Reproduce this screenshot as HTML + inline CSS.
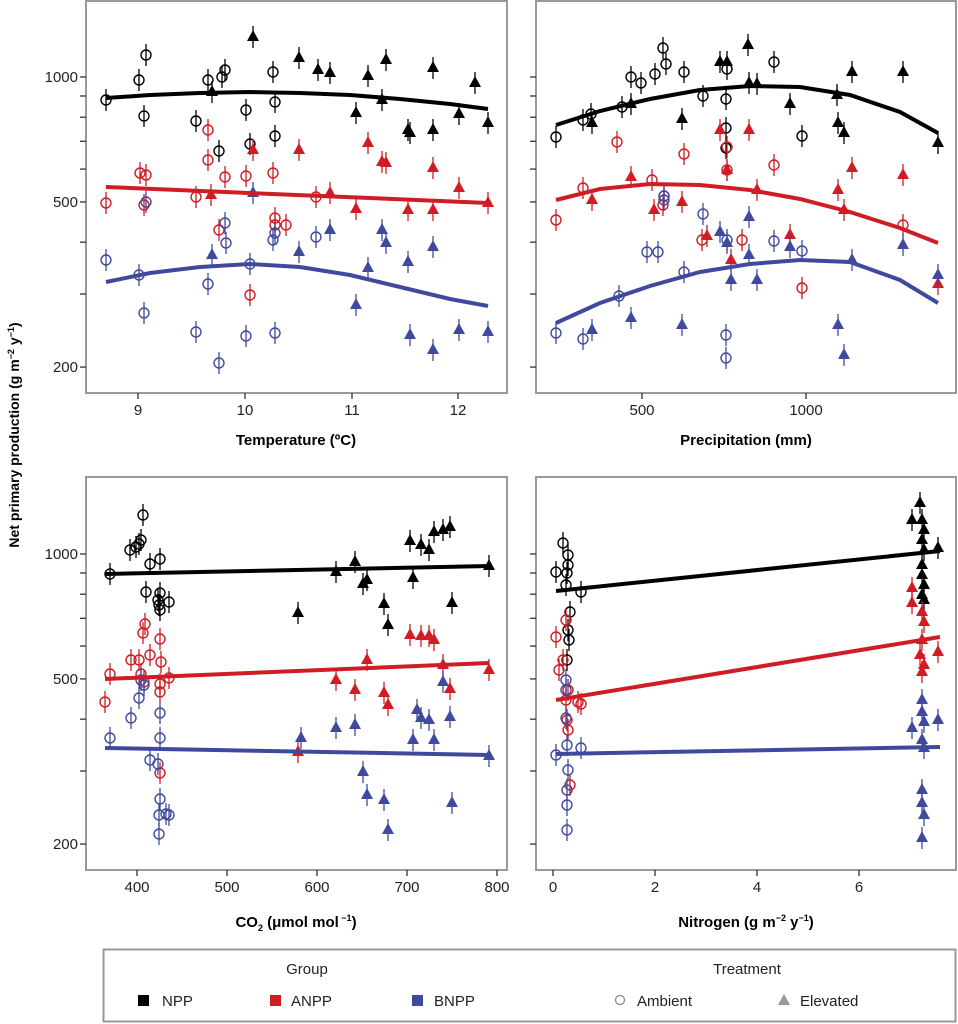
<!DOCTYPE html>
<html><head><meta charset="utf-8"><style>
html,body{margin:0;padding:0;background:#fff;}
svg{display:block;font-family:"Liberation Sans",Arial,sans-serif;}
</style></head><body>
<svg id="s" width="958" height="1024" viewBox="0 0 958 1024" xmlns="http://www.w3.org/2000/svg">
<rect width="958" height="1024" fill="#fff"/>
<g id="g"></g>
<text x="0" y="0" transform="translate(19,435) rotate(-90)" text-anchor="middle" font-size="14" font-weight="bold">Net primary production (g m<tspan font-size="9" dy="-5">−2</tspan><tspan dy="5"> y</tspan><tspan font-size="9" dy="-5">−1</tspan><tspan dy="5">)</tspan></text>
<text x="296" y="445" text-anchor="middle" font-size="15" font-weight="bold">Temperature (ºC)</text>
<text x="746" y="445" text-anchor="middle" font-size="15" font-weight="bold">Precipitation (mm)</text>
<text x="296" y="927" text-anchor="middle" font-size="15" font-weight="bold">CO<tspan font-size="9" dy="4">2</tspan><tspan dy="-4"> (μmol mol</tspan><tspan font-size="9" dy="-6"> −1</tspan><tspan dy="6">)</tspan></text>
<text x="746" y="927" text-anchor="middle" font-size="15" font-weight="bold">Nitrogen (g m<tspan font-size="9" dy="-6">−2</tspan><tspan dy="6">  y</tspan><tspan font-size="9" dy="-6">−1</tspan><tspan dy="6">)</tspan></text>
<rect x="103.5" y="949.5" width="852" height="72" fill="none" stroke="#999" stroke-width="2"/>
<text x="307" y="974" text-anchor="middle" font-size="15" fill="#222">Group</text>
<text x="747" y="974" text-anchor="middle" font-size="15" fill="#222">Treatment</text>
<rect x="138" y="995" width="11" height="11" fill="#000"/><text x="162" y="1006" font-size="15" fill="#222">NPP</text>
<rect x="270" y="995" width="11" height="11" fill="#d01c24"/><text x="291" y="1006" font-size="15" fill="#222">ANPP</text>
<rect x="412" y="995" width="11" height="11" fill="#3f4a9e"/><text x="434" y="1006" font-size="15" fill="#222">BNPP</text>
<circle cx="620" cy="1000" r="4.5" fill="none" stroke="#888" stroke-width="1.3"/><text x="637" y="1006" font-size="15" fill="#222">Ambient</text>
<polygon points="784,994 790,1005 778,1005" fill="#999"/><text x="800" y="1006" font-size="15" fill="#222">Elevated</text>
</svg>
<script>
var NS="http://www.w3.org/2000/svg",G=document.getElementById('g');
function el(t,a){var e=document.createElementNS(NS,t);for(var k in a)e.setAttribute(k,a[k]);G.appendChild(e);return e;}
function txt(x,y,s,anc){var e=el('text',{x:x,y:y,'font-size':15,'text-anchor':anc||'middle',fill:'#222'});e.textContent=s;}
var C={k:'#000',r:'#d01c24',b:'#3f4a9e'};
var P=[[86,1,507,393],[536,1,956,393],[86,477,507,870],[536,477,956,870]];
var Y0=[77,77,554,554];
P.forEach(function(p,i){
 el('rect',{x:p[0],y:p[1],width:p[2]-p[0],height:p[3]-p[1],fill:'none',stroke:'#999','stroke-width':2});
 [200,300,400,500,600,700,800,900,1000].forEach(function(v){var y=Y0[i]-415*Math.log10(v/1000);
  el('line',{x1:p[0]-6,x2:p[0],y1:y,y2:y,stroke:'#333','stroke-width':1.3});
  if(i%2==0&&(v==200||v==500||v==1000))txt(p[0]-8,y+5,String(v),'end');});
});
function xt(p,xs,labs){xs.forEach(function(x,j){el('line',{x1:x,x2:x,y1:p[3],y2:p[3]+6,stroke:'#333','stroke-width':1.3});txt(x,p[3]+22,labs[j]);});}
xt(P[0],[138,245,352,458],['9','10','11','12']);
xt(P[1],[642,806],['500','1000']);
xt(P[2],[137,227,317,407,497],['400','500','600','700','800']);
xt(P[3],[553,655,757,859],['0','2','4','6']);
function o(c,pts){pts.forEach(function(q){el('line',{x1:q[0],x2:q[0],y1:q[1]-11,y2:q[1]+11,stroke:C[c],'stroke-width':1.3});el('circle',{cx:q[0],cy:q[1],r:5,fill:'none',stroke:C[c],'stroke-width':1.4});});}
function t(c,pts){pts.forEach(function(q){el('line',{x1:q[0],x2:q[0],y1:q[1]-11,y2:q[1]+11,stroke:C[c],'stroke-width':1.3});el('polygon',{points:(q[0])+','+(q[1]-7)+' '+(q[0]+6)+','+(q[1]+4)+' '+(q[0]-6)+','+(q[1]+4),fill:C[c]});});}
function ln(c,pts){el('polyline',{points:pts.map(function(q){return q.join(',')}).join(' '),fill:'none',stroke:C[c],'stroke-width':4,'stroke-linecap':'butt'});}
// Panel 1
o('k',[[106,100],[139,80],[146,55],[144,116],[196,121],[208,80],[222,77],[225,70],[219,151],[246,110],[250,144],[273,72],[275,102],[275,136]]);
t('k',[[253,37],[212,92],[299,58],[318,70],[330,73],[356,113],[368,76],[382,100],[386,60],[408,130],[410,133],[433,130],[433,68],[459,114],[475,83],[488,123]]);
o('r',[[106,203],[140,173],[146,175],[144,205],[196,197],[208,130],[208,160],[219,230],[225,177],[246,176],[250,295],[273,173],[275,218],[275,225],[286,225],[316,197]]);
t('r',[[211,195],[253,150],[299,150],[330,193],[356,209],[368,143],[382,162],[386,163],[408,210],[433,168],[433,210],[459,188],[488,203]]);
o('b',[[106,260],[139,275],[146,202],[144,313],[196,332],[208,284],[219,363],[225,223],[226,243],[246,336],[250,264],[273,240],[275,233],[275,333],[316,237]]);
t('b',[[212,255],[253,193],[299,252],[330,230],[356,305],[368,268],[382,230],[386,243],[408,262],[410,335],[433,247],[433,350],[459,330],[488,332]]);
ln('k',[[106,98],[150,95],[200,93],[250,92],[300,93],[350,95],[400,99],[450,104],[488,109]]);
ln('r',[[106,187],[488,203]]);
ln('b',[[106,282],[150,273],[200,267],[250,264],[300,267],[350,275],[400,287],[450,299],[488,306]]);
// Panel 2
o('k',[[556,137],[583,120],[591,114],[622,107],[631,77],[641,83],[655,74],[663,48],[666,64],[684,72],[703,96],[726,99],[726,128],[726,148],[727,69],[774,62],[802,136]]);
t('k',[[592,123],[631,104],[682,119],[720,62],[727,62],[748,45],[749,83],[757,84],[790,104],[837,95],[838,123],[844,133],[852,72],[903,72],[938,143]]);
o('r',[[556,220],[583,188],[617,142],[652,180],[663,205],[664,196],[684,154],[702,240],[727,147],[727,170],[742,240],[774,165],[802,288],[903,225]]);
t('r',[[592,200],[631,177],[654,210],[682,202],[707,236],[720,130],[727,170],[731,260],[749,130],[757,190],[790,235],[838,190],[844,210],[852,168],[903,175],[938,284]]);
o('b',[[556,333],[583,339],[619,296],[647,252],[658,252],[664,196],[664,200],[684,272],[703,214],[726,335],[726,358],[727,240],[774,241],[802,251]]);
t('b',[[592,330],[631,318],[682,325],[720,232],[727,243],[731,280],[749,217],[749,255],[757,280],[790,247],[838,325],[844,355],[852,260],[903,245],[938,275]]);
ln('k',[[556,125],[600,111],[650,99],[700,90],[750,86],[800,87],[850,95],[900,112],[938,133]]);
ln('r',[[556,200],[600,189],[650,184],[700,185],[750,190],[800,199],[850,212],[900,228],[938,243]]);
ln('b',[[556,323],[600,303],[650,286],[700,272],[750,264],[800,260],[850,262],[900,280],[938,303]]);
// Panel 3
o('k',[[110,574],[130,550],[136,547],[139,544],[141,540],[143,515],[150,564],[146,592],[160,559],[160,593],[158,600],[159,605],[160,610],[169,602]]);
t('k',[[298,613],[336,572],[355,562],[363,584],[367,580],[384,604],[388,625],[413,578],[410,541],[421,545],[429,550],[434,532],[443,530],[450,527],[452,603],[489,566]]);
o('r',[[105,702],[110,674],[131,660],[139,660],[141,674],[143,633],[145,624],[150,655],[144,682],[160,684],[160,692],[160,639],[161,662],[160,773],[169,678]]);
t('r',[[298,752],[336,680],[355,690],[367,660],[384,693],[388,705],[410,635],[421,636],[429,636],[434,640],[443,665],[450,689],[489,670]]);
o('b',[[110,738],[131,718],[139,698],[141,680],[144,685],[150,760],[158,764],[160,738],[160,713],[166,814],[160,799],[159,815],[159,834],[169,815]]);
t('b',[[301,738],[336,728],[355,725],[363,772],[367,795],[384,800],[388,830],[413,740],[417,710],[421,718],[429,720],[434,740],[443,682],[450,717],[452,803],[489,756]]);
ln('k',[[105,574],[489,566]]);ln('r',[[105,679],[489,663]]);ln('b',[[105,748],[489,755]]);
// Panel 4
o('k',[[556,572],[563,543],[566,585],[567,573],[568,565],[568,555],[570,612],[568,630],[569,640],[567,660],[581,592]]);
o('r',[[556,637],[559,670],[563,660],[566,620],[568,690],[566,700],[567,720],[568,730],[570,785],[578,702],[581,704]]);
o('b',[[556,755],[566,718],[566,690],[566,680],[567,745],[568,770],[567,790],[567,805],[567,830],[581,748]]);
t('k',[[920,503],[912,520],[922,520],[924,530],[922,540],[924,550],[938,548],[922,565],[922,575],[924,585],[922,595],[924,600]]);
t('r',[[912,588],[912,603],[922,612],[924,622],[922,640],[920,655],[924,665],[938,652],[922,672]]);
t('b',[[922,700],[922,712],[924,722],[912,728],[938,720],[922,740],[924,748],[922,790],[922,803],[924,815],[922,838]]);
ln('k',[[556,591],[940,551]]);ln('r',[[556,700],[940,637]]);ln('b',[[556,754],[940,747]]);
</script>
</body></html>
